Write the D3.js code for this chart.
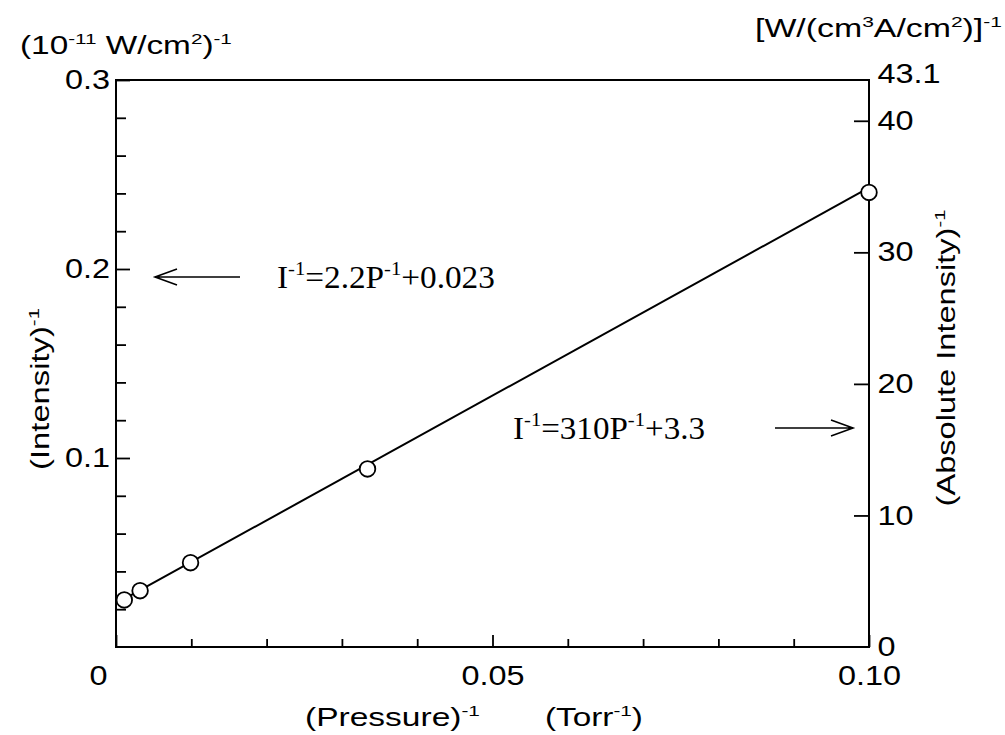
<!DOCTYPE html>
<html>
<head>
<meta charset="utf-8">
<script src="https://cdn.jsdelivr.net/npm/d3@7"></script>
<style>
  html, body { margin: 0; padding: 0; background: #fff; }
  svg { display: block; }
  .tick text { font-family: "Liberation Sans", Arial, sans-serif; }
</style>
</head>
<body>
<svg id="chart" width="1005" height="735"></svg>
<script>
// Measured points: reciprocal pressure (Torr^-1) vs reciprocal intensity (10^-11 W/cm^2)^-1
const invPressure  = [0.0011, 0.0032, 0.0099, 0.0334, 0.1000];
const invIntensity = [0.0249, 0.0298, 0.0446, 0.0942, 0.2405];

// Linear fit I^-1 = slope * P^-1 + intercept (left-axis units)
const fitSlope = 2.2;
const fitIntercept = 0.023;

// Axis ticks
const xMajorTicks = [0, 0.05, 0.10];
const xMinorTicks = [0.01, 0.02, 0.03, 0.04, 0.06, 0.07, 0.08, 0.09];
const leftMajorTicks = [0.1, 0.2, 0.3];
const leftMinorTicks = [0.02, 0.04, 0.06, 0.08, 0.12, 0.14, 0.16, 0.18, 0.22, 0.24, 0.26, 0.28];
const rightTicks = [0, 10, 20, 30, 40, 43.1];
const leftMax = 0.3;
const rightMax = 43.1;

const svg = d3.select("#chart");
const plot = { left: 116, right: 869, top: 80, bottom: 647 };

const x  = d3.scaleLinear([0, 0.1], [plot.left, plot.right]);
const yL = d3.scaleLinear([0, leftMax], [plot.bottom, plot.top]);
const yR = d3.scaleLinear([0, rightMax], [plot.bottom, plot.top]);

const SANS = '"Liberation Sans", Arial, Helvetica, sans-serif';
const SERIF = '"Liberation Serif", "Times New Roman", serif';
const tickFont = 27;
const tickStretch = 1.2;

function styleAxis(g) {
  g.select(".domain").remove();
  g.selectAll(".tick line").attr("stroke", "#000").attr("stroke-width", 1.8);
  g.selectAll(".tick text")
    .attr("font-size", tickFont)
    .attr("fill", "#000")
    .attr("transform", `scale(${tickStretch},1)`);
}

// bottom axis
const gxMinor = svg.append("g").attr("transform", `translate(0,${plot.bottom})`)
  .call(d3.axisBottom(x).tickValues(xMinorTicks).tickSize(-8).tickFormat(""));
styleAxis(gxMinor);
const gx = svg.append("g").attr("transform", `translate(0,${plot.bottom})`)
  .call(d3.axisBottom(x).tickValues(xMajorTicks).tickSize(-12).tickPadding(19)
    .tickFormat(d => d === 0 ? "0" : d3.format(".2f")(d)));
styleAxis(gx);
gx.selectAll(".tick text").filter(d => d === 0).attr("x", -15);

// left axis
const gyMinor = svg.append("g").attr("transform", `translate(${plot.left},0)`)
  .call(d3.axisLeft(yL).tickValues(leftMinorTicks).tickSize(-10).tickFormat(""));
styleAxis(gyMinor);
const gy = svg.append("g").attr("transform", `translate(${plot.left},0)`)
  .call(d3.axisLeft(yL).tickValues(leftMajorTicks).tickSize(-14).tickPadding(5)
    .tickFormat(d3.format(".1f")));
styleAxis(gy);

// right axis
const gyR = svg.append("g").attr("transform", `translate(${plot.right},0)`)
  .call(d3.axisRight(yR).tickValues(rightTicks).tickSize(-15).tickPadding(7)
    .tickFormat(d => d === 43.1 ? "43.1" : String(d)));
styleAxis(gyR);
gyR.selectAll(".tick line").filter(d => d === 43.1 || d === 0).remove();
gyR.selectAll(".tick text").filter(d => d === 43.1).attr("dy", "0.1em");

// frame
svg.append("rect")
  .attr("x", plot.left).attr("y", plot.top)
  .attr("width", plot.right - plot.left).attr("height", plot.bottom - plot.top)
  .attr("fill", "none").attr("stroke", "#000").attr("stroke-width", 2);

// fitted line across the measured range
const xFit = d3.extent(invPressure);
svg.append("line")
  .attr("x1", x(xFit[0])).attr("y1", yL(fitSlope * xFit[0] + fitIntercept))
  .attr("x2", x(xFit[1])).attr("y2", yL(fitSlope * xFit[1] + fitIntercept))
  .attr("stroke", "#000").attr("stroke-width", 2);

// data markers
svg.append("g").selectAll("circle")
  .data(invPressure.map((p, i) => [p, invIntensity[i]]))
  .join("circle")
  .attr("cx", d => x(d[0])).attr("cy", d => yL(d[1]))
  .attr("r", 7.8)
  .attr("fill", "#fff").attr("stroke", "#000").attr("stroke-width", 1.8);

// text with superscripts; parts = [[string, isSuperscript], ...]
function label(parts, o) {
  const size = o.size;
  const t = svg.append("text")
    .attr("font-family", o.family || SANS)
    .attr("font-size", size)
    .attr("fill", "#000")
    .attr("text-anchor", o.anchor || "start");
  let raised = 0;
  parts.forEach(([str, sup]) => {
    const shift = sup ? -0.42 * size : 0;
    t.append("tspan")
      .attr("font-size", sup ? size * (o.supScale || 0.62) : size)
      .attr("dy", shift - raised)
      .text(str);
    raised = shift;
  });
  const w = t.node().getBBox().width;
  const s = o.width ? o.width / w : 1;
  t.attr("transform", `translate(${o.x},${o.y}) rotate(${o.rotate || 0}) scale(${s},1)`);
  return t;
}

// unit labels
label([["(10", 0], ["-11", 1], [" W/cm", 0], ["2", 1], [")", 0], ["-1", 1]],
  { x: 20, y: 54, size: 25, width: 212 });
label([["[W/(cm", 0], ["3", 1], ["A/cm", 0], ["2", 1], [")]", 0], ["-1", 1]],
  { x: 755, y: 37, size: 25, width: 247 });

// axis titles
label([["(Intensity)", 0], ["-1", 1]],
  { x: 49, y: 389, size: 25, anchor: "middle", rotate: -90, width: 162 });
label([["(Absolute Intensity)", 0], ["-1", 1]],
  { x: 955, y: 358, size: 25, anchor: "middle", rotate: -90, width: 297 });
label([["(Pressure)", 0], ["-1", 1]],
  { x: 305, y: 726, size: 25, width: 175 });
label([["(Torr", 0], ["-1", 1], [")", 0]],
  { x: 545, y: 726, size: 25, width: 98 });

// fit equations with arrows pointing to their axes
label([["I", 0], ["-1", 1], ["=2.2P", 0], ["-1", 1], ["+0.023", 0]],
  { x: 277, y: 288, size: 32, family: SERIF, width: 218 });
label([["I", 0], ["-1", 1], ["=310P", 0], ["-1", 1], ["+3.3", 0]],
  { x: 705, y: 439, size: 32, family: SERIF, anchor: "end", width: 192 });

function arrow(xTail, xTip, yy) {
  const dir = Math.sign(xTip - xTail);
  const p = d3.path();
  p.moveTo(xTail, yy); p.lineTo(xTip, yy);
  p.moveTo(xTip - dir * 22, yy - 8); p.lineTo(xTip, yy); p.lineTo(xTip - dir * 22, yy + 8);
  svg.append("path").attr("d", p.toString())
    .attr("fill", "none").attr("stroke", "#000").attr("stroke-width", 1.6);
}
arrow(240, 155, 277);
arrow(775, 853, 428);
</script>
</body>
</html>
